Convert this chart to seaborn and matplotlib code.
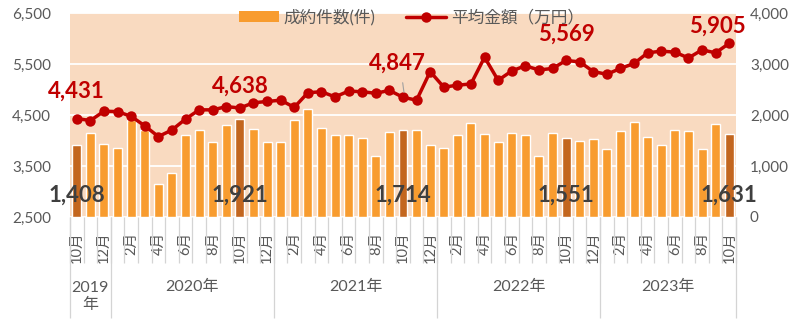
import matplotlib
matplotlib.use("Agg")
import matplotlib.pyplot as plt
from matplotlib.patches import Patch
from matplotlib.lines import Line2D
import seaborn as sns
import pandas as pd

# Monthly data, Oct 2019 - Oct 2023
month_labels = ["10月", "11月", "12月", "1月", "2月", "3月", "4月", "5月", "6月", "7月", "8月", "9月", "10月",
                "11月", "12月", "1月", "2月", "3月", "4月", "5月", "6月", "7月", "8月", "9月", "10月",
                "11月", "12月", "1月", "2月", "3月", "4月", "5月", "6月", "7月", "8月", "9月", "10月",
                "11月", "12月", "1月", "2月", "3月", "4月", "5月", "6月", "7月", "8月", "9月", "10月"]

# 成約件数 (件)
counts = [1408, 1648, 1434, 1354, 1895, 1708, 647, 860, 1601, 1701, 1462, 1795, 1921,
          1735, 1468, 1468, 1895, 2121, 1749, 1609, 1609, 1548, 1194, 1668, 1714,
          1708, 1414, 1348, 1615, 1849, 1629, 1475, 1655, 1609, 1188, 1649, 1551,
          1494, 1528, 1328, 1689, 1861, 1561, 1414, 1715, 1689, 1328, 1829, 1631]

# 平均金額 (万円)
prices = [4431, 4391, 4574, 4567, 4473, 4288, 4077, 4206, 4421, 4601, 4601, 4664, 4638,
          4740, 4765, 4791, 4650, 4937, 4956, 4855, 4969, 4956, 4926, 4983, 4847,
          4791, 5351, 5046, 5084, 5109, 5632, 5180, 5364, 5465, 5383, 5413, 5569,
          5542, 5351, 5299, 5413, 5510, 5719, 5752, 5733, 5618, 5777, 5719, 5905]

# Year groups on the axis: (label, first index, last index)
year_groups = [("2019\n年", 0, 2), ("2020年", 3, 14), ("2021年", 15, 26),
               ("2022年", 27, 38), ("2023年", 39, 48)]

left_ticks = [2500, 3500, 4500, 5500, 6500]
right_ticks = [0, 1000, 2000, 3000, 4000]

BG = "#F9DAC0"
ORANGE = "#F89C2F"
DARK_ORANGE = "#C3661E"
RED = "#C00000"
GRAY = "#595959"
SEP = "#D4D4D4"

df = pd.DataFrame({
    "idx": list(range(len(counts))),
    "month": month_labels,
    "count": counts,
    "price": prices,
})
df["is_oct"] = df["month"].eq("10月")

sns.set_theme(style="white")
plt.rcParams["font.family"] = ["Lato", "Noto Sans CJK JP", "DejaVu Sans"]

fig = plt.figure(figsize=(8, 3.26), dpi=100)
ax = fig.add_axes([70 / 800, (326 - 217) / 326, 666 / 800, 204 / 326])
ax.set_facecolor(BG)

# Bars: transaction counts (right scale)
sns.barplot(data=df, x="idx", y="count", hue="is_oct", dodge=False,
            palette={False: ORANGE, True: DARK_ORANGE}, saturation=1,
            width=0.66, legend=False, ax=ax)
ax.set_ylim(0, 4000)
ax.set_axisbelow(True)
ax.yaxis.grid(True, color="white", lw=1.3)
ax.xaxis.grid(False)

# Line: average price (left scale)
ax2 = ax.twinx()
sns.lineplot(data=df, x="idx", y="price", ax=ax2, color=RED, lw=2.5,
             marker="o", markersize=7.5, markeredgewidth=0)
ax2.set_ylim(2500, 6500)

ax.yaxis.tick_right()
ax.yaxis.set_label_position("right")
ax2.yaxis.tick_left()
ax2.yaxis.set_label_position("left")

ax.set_yticks(right_ticks)
ax.set_yticklabels([f"{v:,}" for v in right_ticks])
ax2.set_yticks(left_ticks)
ax2.set_yticklabels([f"{v:,}" for v in left_ticks])
ax.tick_params(axis="y", length=0, pad=10, labelsize=11, labelcolor=GRAY)
ax2.tick_params(axis="y", length=0, pad=13.5, labelsize=11, labelcolor=GRAY)

for a in (ax, ax2):
    a.set_xlabel("")
    a.set_ylabel("")
    for s in a.spines.values():
        s.set_visible(False)

ax.set_xlim(-0.5, len(counts) - 0.5)
even = list(range(0, len(counts), 2))
ax.set_xticks(even)
ax.set_xticklabels([month_labels[i] for i in even], rotation=90)
ax.tick_params(axis="x", length=0, pad=10.5, labelsize=10.5, labelcolor=GRAY)

# Category separators below the plot
xt = ax.get_xaxis_transform()
ax.vlines([i - 0.5 for i in range(len(counts) + 1)], -0.225, 0,
          transform=xt, colors=SEP, lw=0.9, clip_on=False)
year_bounds = [-0.5] + [last + 0.5 for _, _, last in year_groups]
ax.vlines(year_bounds, -0.495, 0, transform=xt, colors=SEP, lw=0.9, clip_on=False)
for label, first, last in year_groups:
    cx = (first + last) / 2
    y = -0.39 if "\n" in label else -0.345
    ax.text(cx, y, label, transform=xt, ha="center", va="center",
            fontsize=11.5, color=GRAY, linespacing=1.25)

# Value labels for each October
oct_idx = df.index[df["is_oct"]].tolist()
price_offsets = {0: (0, 20), 12: (0, 16), 24: (-4, 24.5), 36: (0, 19), 48: (-8.5, 12.6)}
for i in oct_idx:
    dx, dy = price_offsets[i]
    ax2.annotate(f"{prices[i]:,}", (i, prices[i]), xytext=(dx, dy),
                 textcoords="offset points", ha="center", va="center",
                 fontsize=16, fontweight="bold", color=RED, zorder=5)
    ax.text(i, 430, f"{counts[i]:,}", ha="center", va="center",
            fontsize=16, fontweight="bold", color="#3F3F3F", zorder=5, clip_on=False)

# Leader line for the 2021 label
ax2.annotate("", xy=(24.1, prices[24] + 40), xytext=(23.95, prices[24] + 340),
             arrowprops=dict(arrowstyle="-", color="#A0A0A0", lw=0.8))

handles = [Patch(facecolor=ORANGE, edgecolor="none", label="成約件数(件)"),
           Line2D([0], [0], color=RED, lw=2.5, marker="o", markersize=7.5,
                  markeredgewidth=0, label="平均金額（万円）")]
fig.legend(handles=handles, loc="center", bbox_to_anchor=(0.514, 0.948), ncol=2,
           frameon=False, fontsize=12, labelcolor=GRAY, handlelength=2.4,
           handletextpad=0.3, columnspacing=1.8, handleheight=0.6)

fig.savefig("out.png", dpi=100)
